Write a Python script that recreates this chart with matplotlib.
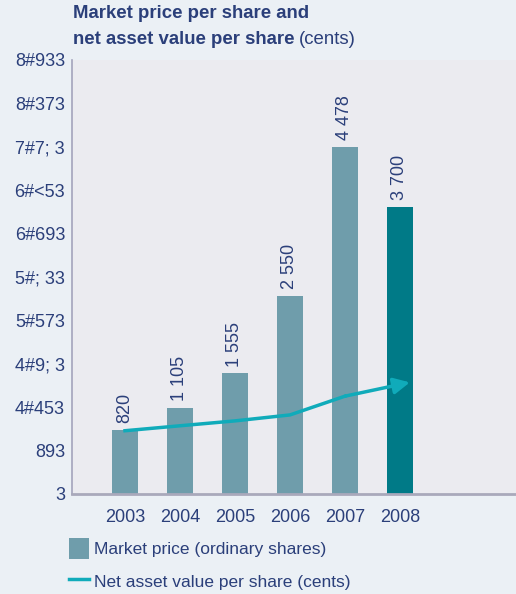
import matplotlib
matplotlib.use("Agg")
import matplotlib.pyplot as plt
from matplotlib.patches import Patch
from matplotlib.lines import Line2D

# data
years = ["2003", "2004", "2005", "2006", "2007", "2008"]
market_price = [820, 1105, 1555, 2550, 4478, 3700]
price_labels = ["820", "1 105", "1 555", "2 550", "4 478", "3 700"]
nav = [816, 880, 943, 1020, 1262, 1440]
ytick_values = [0, 560, 1120, 1680, 2240, 2800, 3360, 3920, 4480, 5040, 5600]
ytick_labels = ["3", "893", "4#453", "4#9; 3", "5#573", "5#; 33",
                "6#693", "6#<53", "7#7; 3", "8#373", "8#933"]

navy = "#2b3f7a"
bar_col = "#6f9dab"
last_col = "#007a87"
line_col = "#10abba"

plt.rcParams["font.family"] = ["Liberation Sans", "DejaVu Sans"]

fig = plt.figure(figsize=(5.16, 5.94), dpi=100)
fig.patch.set_facecolor("#ebf0f5")
ax = fig.add_axes([0.1395, 0.1684, 0.8605, 0.7306])
ax.set_facecolor("#ebebf0")

x = list(range(len(years)))
colors = [bar_col] * (len(years) - 1) + [last_col]
ax.bar(x, market_price, width=0.485, color=colors, zorder=2)

# value labels above bars
for i in x:
    ax.annotate(price_labels[i], (i, market_price[i]), xytext=(0, 5),
                textcoords="offset points", rotation=90, ha="center",
                va="bottom", fontsize=13, color=navy)

# net asset value line with arrow head
ax.plot(x[:-1], nav[:-1], color=line_col, lw=2.5, zorder=3)
ax.annotate("", xy=(x[-1] + 0.18, nav[-1]), xytext=(x[-2], nav[-2]),
            arrowprops=dict(arrowstyle="-|>", color=line_col, lw=2.5,
                            mutation_scale=24, shrinkA=0, shrinkB=0),
            zorder=3)

ax.set_xlim(-0.964, 7.11)
ax.set_ylim(0, 5600)
ax.set_xticks(x)
ax.set_xticklabels(years)
ax.set_yticks(ytick_values)
ax.set_yticklabels(ytick_labels)
ax.tick_params(axis="both", length=0, labelsize=13, labelcolor=navy)
ax.tick_params(axis="x", pad=11)
ax.tick_params(axis="y", pad=5)

for s in ["top", "right"]:
    ax.spines[s].set_visible(False)
ax.spines["left"].set_color("#a4a4bc")
ax.spines["left"].set_linewidth(1.2)
ax.spines["bottom"].set_color("#a9a9bb")
ax.spines["bottom"].set_linewidth(2)

# title (bold part plus regular "(cents)")
fig.text(73 / 516, 1 - 14 / 594, "Market price per share and", fontsize=13.4,
         fontweight="bold", color=navy, va="center", ha="left")
t2 = fig.text(73 / 516, 1 - 40 / 594, "net asset value per share", fontsize=13.4,
              fontweight="bold", color=navy, va="center", ha="left")
fig.canvas.draw()
bb = t2.get_window_extent()
fig.text(bb.x1 / (5.16 * 100) + 0.008, 1 - 40 / 594, "(cents)", fontsize=13.4,
         color=navy, va="center", ha="left")

handles = [Patch(facecolor=bar_col, edgecolor="none"),
           Line2D([0], [0], color=line_col, lw=2.5)]
labels = ["Market price (ordinary shares)", "Net asset value per share (cents)"]
leg = fig.legend(handles, labels, loc="upper left",
                 bbox_to_anchor=(69 / 516, 1 - 538 / 594), frameon=False,
                 fontsize=12.5, handlelength=1.15, handleheight=1.45,
                 handletextpad=0.3, labelspacing=0.7, borderaxespad=0,
                 borderpad=0)
for txt in leg.get_texts():
    txt.set_color(navy)

fig.savefig("out.png", dpi=100, facecolor=fig.get_facecolor())
